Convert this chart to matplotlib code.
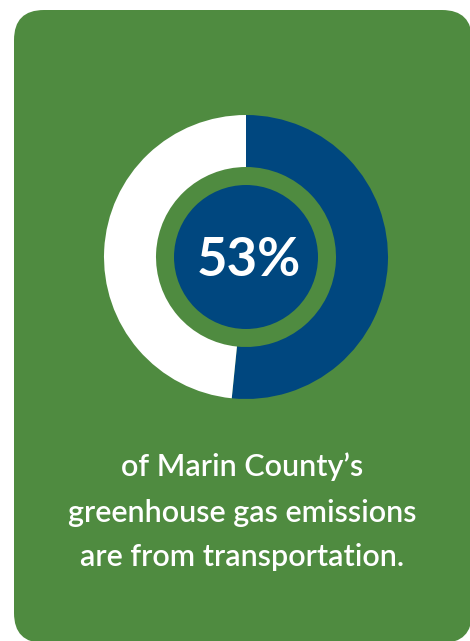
import matplotlib
matplotlib.use("Agg")
import matplotlib.pyplot as plt
from matplotlib.patches import FancyBboxPatch, Circle

# Datos
share_label = "53%"
slices = [51.6, 48.4]
slice_colors = ["#00477F", "#FFFFFF"]
caption = ["of Marin County\u2019s",
           "greenhouse gas emissions",
           "are from transportation."]

green = "#4F8B40"
blue = "#00477F"

W, H = 470, 641
fig = plt.figure(figsize=(W / 100, H / 100), dpi=100)
ax = fig.add_axes([0, 0, 1, 1])

# Tarjeta verde con esquinas redondeadas
card = FancyBboxPatch((14 + 30, -2 + 30), 458 - 60, 633 - 60,
                      boxstyle="round,pad=30", fc=green, ec="none")
ax.add_patch(card)

# Anillo
cx, cy = 246, H - 257
ax.pie(slices, colors=slice_colors, startangle=90, counterclock=False,
       center=(cx, cy), radius=142,
       wedgeprops=dict(width=52, edgecolor="none"))

# Círculo interior
ax.add_patch(Circle((cx, cy), 72, fc=blue, ec="none"))
ax.text(cx + 3, cy - 3, share_label, color="white", fontsize=38,
        fontweight="bold", family="Lato", ha="center", va="center")

# Texto inferior
ys = [H - 467, H - 513, H - 557]
for txt, y in zip(caption, ys):
    ax.text(242, y, txt, color="white", fontsize=22, family="Lato",
            fontweight="semibold", ha="center", va="center")

ax.set_xlim(0, W)
ax.set_ylim(0, H)
ax.set_aspect("auto")
ax.axis("off")
fig.savefig("out.png", dpi=100)
